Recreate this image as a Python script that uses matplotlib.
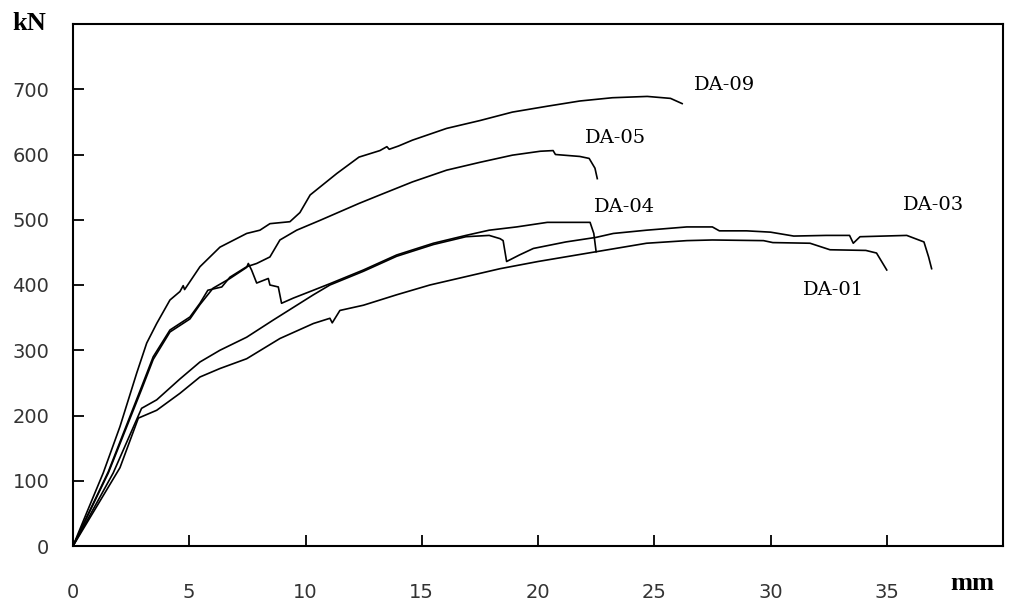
import matplotlib
matplotlib.use("Agg")
import matplotlib.pyplot as plt

# load-displacement curves (mm, kN)
da09_x = [0, 0.6, 1.3, 2.02, 2.74, 3.17, 3.6, 4.17, 4.6, 4.74, 4.8, 5.46, 6.32, 7.47, 8.04, 8.47, 9.33, 9.76,
          10.2, 11.35, 12.3, 13.2, 13.5, 13.6, 14.0, 14.6, 16.07, 17.5, 18.9, 20.4, 21.8, 23.2, 24.7, 25.7, 26.2]
da09_y = [0, 52, 112, 183, 265, 311, 341, 377, 390, 399, 393, 428, 458, 479, 484, 494, 497, 511,
          538, 571, 596, 606, 612, 608, 613, 622, 640, 652, 665, 674, 682, 687, 689, 686, 678]

da05_x = [0, 1.52, 2.95, 3.45, 4.17, 5.03, 5.46, 5.8, 6.4, 6.75, 7.47, 7.9, 8.47, 8.9, 9.62, 10.62, 12.3, 13.2,
          14.6, 16.07, 17.5, 18.9, 20.1, 20.65, 20.75, 21.8, 22.2, 22.45, 22.55]
da05_y = [0, 114, 244, 290, 331, 351, 372, 392, 397, 412, 428, 433, 443, 469, 484, 499, 525, 538,
          558, 576, 588, 599, 605, 606, 600, 597, 594, 579, 563]

da04_x = [0, 1.52, 2.95, 3.45, 4.17, 5.03, 5.46, 6.02, 6.75, 7.47, 7.54, 7.68, 7.9, 8.4, 8.47, 8.83, 8.97,
          9.48, 10.34, 11.05, 12.49, 13.92, 15.5, 16.9, 17.9, 19.08, 20.4, 22.24, 22.4, 22.5]
da04_y = [0, 112, 240, 286, 328, 348, 370, 395, 410, 427, 433, 423, 403, 410, 400, 397, 372,
          380, 392, 402, 423, 446, 464, 476, 484, 489, 496, 496, 479, 451]

da03_x = [0, 1.73, 2.95, 3.6, 4.6, 5.46, 6.32, 7.47, 8.6, 10.34, 11.05, 12.49, 13.92, 15.5, 16.9, 17.9,
          18.37, 18.5, 18.65, 19.2, 19.8, 21.2, 22.5, 23.24, 24.67, 26.4, 27.5, 27.8, 28.97, 30.0, 31.0,
          32.4, 33.4, 33.56, 33.85, 35.86, 36.6, 36.8, 36.93]
da03_y = [0, 112, 211, 224, 256, 282, 300, 320, 346, 385, 400, 421, 444, 462, 474, 476,
          471, 468, 436, 446, 456, 466, 473, 479, 484, 489, 489, 483, 483, 481, 475,
          476, 476, 464, 474, 476, 466, 443, 425]

da01_x = [0, 2.02, 2.81, 3.6, 4.6, 5.46, 6.32, 7.47, 8.9, 10.34, 11.05, 11.15, 11.48, 12.49, 13.92, 15.35,
          18.37, 20.0, 22.5, 24.67, 26.4, 27.5, 29.7, 30.1, 31.7, 32.56, 34.1, 34.56, 35.0]
da01_y = [0, 120, 196, 208, 234, 259, 272, 287, 318, 341, 349, 342, 361, 369, 385, 400,
          425, 436, 451, 464, 468, 469, 468, 465, 464, 454, 453, 449, 423]

curves = [(da09_x, da09_y), (da05_x, da05_y), (da04_x, da04_y), (da03_x, da03_y), (da01_x, da01_y)]

labels = ["DA-09", "DA-05", "DA-04", "DA-03", "DA-01"]
label_x = [26.7, 22.0, 22.4, 35.7, 31.4]
label_y = [706, 626, 519, 522, 392]

x_ticks = [0, 5, 10, 15, 20, 25, 30, 35]
y_ticks = [0, 100, 200, 300, 400, 500, 600, 700]

fig = plt.figure(figsize=(10.12, 6.03), dpi=100)
ax = fig.add_axes([73 / 1012, 1 - 546 / 603, 930 / 1012, 522 / 603])

for cx, cy in curves:
    ax.plot(cx, cy, color="black", linewidth=1.2)

for s, lx, ly in zip(labels, label_x, label_y):
    ax.text(lx, ly, s, family="DejaVu Serif", size=14, ha="left", va="center")

ax.set_xlim(0, 40)
ax.set_ylim(0, 800)
ax.set_xticks(x_ticks)
ax.set_yticks(y_ticks)
ax.tick_params(axis="x", direction="in", length=8, width=1.3, pad=27, labelsize=14, labelcolor="#333333")
ax.tick_params(axis="y", direction="in", length=8, width=1.3, pad=17, labelsize=14, labelcolor="#333333")
for sp in ax.spines.values():
    sp.set_linewidth(1.5)

fig.text(12 / 1012, 1 - 24 / 603, "kN", family="Liberation Serif", weight="bold", size=19, ha="left", va="center")
fig.text(950 / 1012, 1 - 590 / 603, "mm", family="Liberation Serif", weight="bold", size=19, ha="left", va="baseline")

fig.savefig("out.png", dpi=100)
